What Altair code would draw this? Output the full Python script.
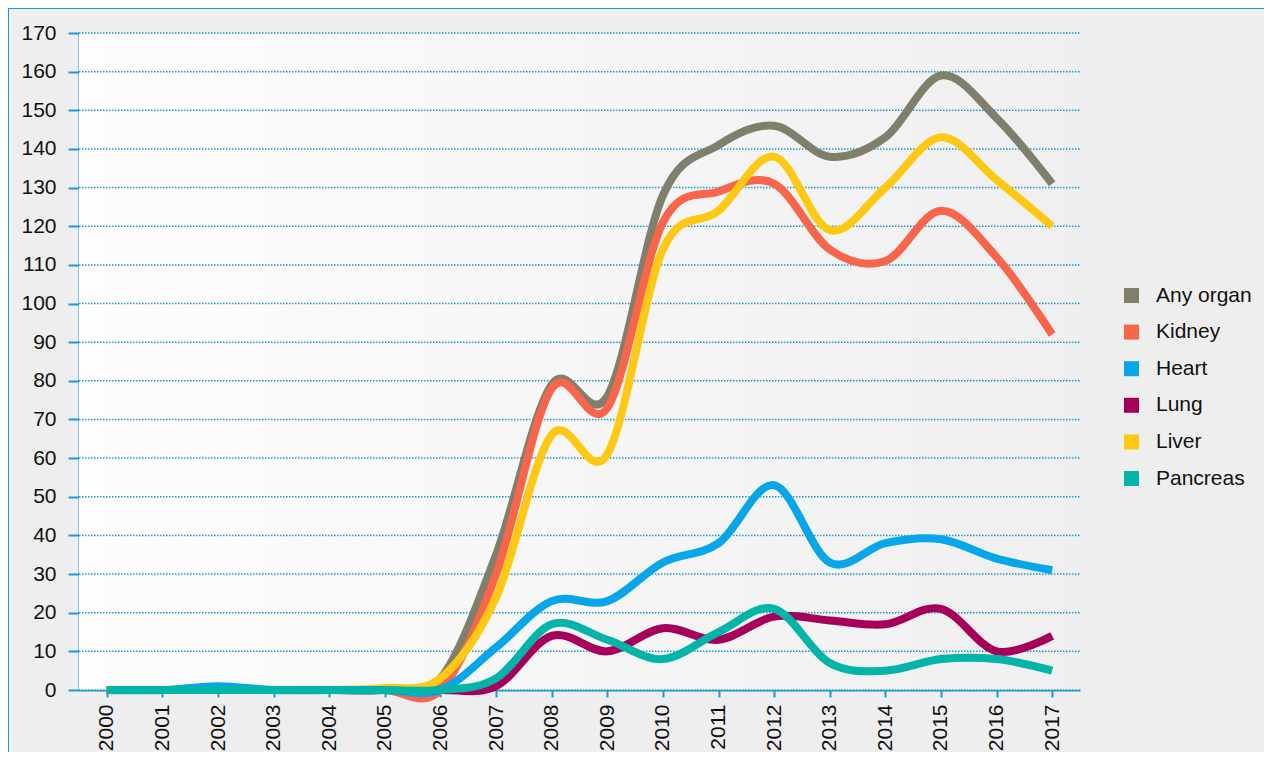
import altair as alt
import pandas as pd

years = list(range(2000, 2018))
series = ["Any organ", "Kidney", "Heart", "Lung", "Liver", "Pancreas"]
colors = ["#7F7F6B", "#F8654B", "#06A6E8", "#A6005A", "#FFC813", "#03B5A8"]

any_organ = [0, 0, 0, 0, 0, 0, 3, 35, 79, 76, 128, 141, 146, 138, 143, 159, 148, 131]
kidney =    [0, 0, 0, 0, 0, 0, 0, 30, 78, 73, 121, 129, 131, 114, 111, 124, 112, 92]
heart =     [0, 0, 1, 0, 0, 0, 0, 11, 23, 23, 33, 38, 53, 33, 38, 39, 34, 31]
lung =      [0, 0, 0, 0, 0, 0, 0, 1, 14, 10, 16, 13, 19, 18, 17, 21, 10, 14]
liver =     [0, 0, 0, 0, 0, 0.5, 3, 24, 66, 61, 114, 124, 138, 119, 130, 143, 132, 120]
pancreas =  [0, 0, 0, 0, 0, 0, 0, 3, 17, 13, 8, 15, 21, 7, 5, 8, 8, 5]
y_ticks = list(range(0, 171, 10))

values = [any_organ, kidney, heart, lung, liver, pancreas]
rows = []
for s, vals in zip(series, values):
    for y, v in zip(years, vals):
        rows.append({"series": s, "year": str(y), "value": v})
df = pd.DataFrame(rows)
grid_df = pd.DataFrame({"tick": y_ticks})

W, H = 1001, 657
PL, PT = 71, 25
TOTAL_W, TOTAL_H = 1256, 744

blue = "#1A9AD6"
font = "Liberation Sans"
fs = 21

y_scale = alt.Scale(domain=[0, 170], nice=False, zero=True)
y_axis = alt.Axis(title=None, values=y_ticks, labelFontSize=fs,
                  labelFont=font, labelColor="#111111", domainColor=blue,
                  domainWidth=2, tickColor=blue, tickWidth=2, tickSize=11,
                  labelPadding=12, grid=False)

bg = alt.Chart(df).mark_rect(
    fill=alt.Gradient(
        gradient="linear", x1=0, x2=1, y1=0, y2=0,
        stops=[alt.GradientStop(offset=0, color="#FDFDFD"),
               alt.GradientStop(offset=1, color="#EFEFEF")],
    )
).encode(x=alt.value(0), x2=alt.value(W), y=alt.value(0), y2=alt.value(H))

border = alt.Chart(df).mark_rect(
    fillOpacity=0, stroke=blue, strokeWidth=1.5
).encode(x=alt.value(-PL), x2=alt.value(TOTAL_W + 50), y=alt.value(-PT), y2=alt.value(TOTAL_H + 50))

grid = alt.Chart(grid_df).mark_rule(
    color=blue, strokeWidth=1.5, strokeDash=[1.5, 1.5]
).encode(
    y=alt.Y("tick:Q", scale=y_scale, axis=y_axis),
    x=alt.value(0), x2=alt.value(W),
)

lines = alt.Chart(df).mark_line(
    interpolate="cardinal", strokeWidth=8
).encode(
    x=alt.X("year:O", sort=[str(y) for y in years],
            scale=alt.Scale(type="point", padding=0.5),
            axis=alt.Axis(title=None, labelAngle=-90, labelFontSize=fs, labelFont=font,
                          labelColor="#111111", domainColor=blue, domainWidth=2,
                          tickColor=blue, tickWidth=2, tickSize=7, labelPadding=7,
                          grid=False)),
    y=alt.Y("value:Q", scale=y_scale, axis=y_axis),
    color=alt.Color("series:N", sort=series,
                    scale=alt.Scale(domain=series, range=colors),
                    legend=alt.Legend(title=None, orient="none", legendX=1042, legendY=252,
                                      symbolType="square", symbolSize=56,
                                      symbolStrokeWidth=7.5, symbolOpacity=1,
                                      labelFontSize=fs, labelFont=font, labelColor="#111111",
                                      labelOffset=14, rowPadding=-2.4, padding=0)),
    order=alt.Order("order:Q"),
    detail="series:N",
).transform_calculate(
    order="indexof(['Any organ','Kidney','Heart','Lung','Liver','Pancreas'], datum.series)"
)

chart = alt.layer(bg, border, grid, lines).resolve_scale(y="shared").properties(
    width=W, height=H,
    autosize=alt.AutoSizeParams(type="none"),
    padding={"left": PL, "top": PT, "right": TOTAL_W - PL - W, "bottom": TOTAL_H - PT - H},
    background="#EEEEEE",
).configure_view(stroke=None)

chart.save("out.html", embed_options={"renderer": "svg", "actions": False})
